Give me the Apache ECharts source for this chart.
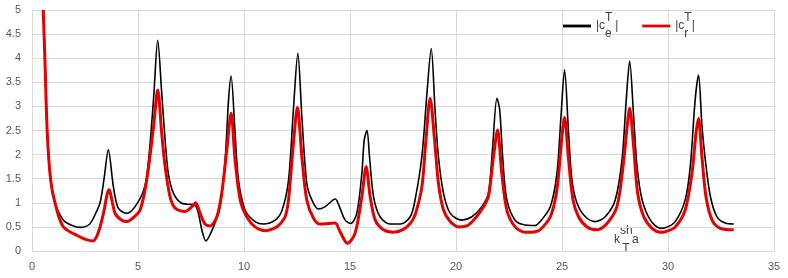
<!DOCTYPE html>
<html>
<head>
<meta charset="utf-8">
<script src="https://cdn.jsdelivr.net/npm/echarts@6/dist/echarts.min.js"></script>
<style>html,body{margin:0;padding:0;background:#fff}#c{width:788px;height:278px}</style>
</head>
<body>
<div id="c"></div>
<script>
const blackX = [0.53,0.61,0.72,0.88,1.09,1.48,1.9,2.27,2.7,2.97,3.21,3.4,3.6,3.84,4.07,4.47,5.1,5.41,5.73,5.93,6.12,6.28,6.43,6.67,7.06,7.69,7.85,8.01,8.2,8.56,8.87,9.11,9.27,9.39,9.58,9.74,10.05,10.52,10.92,11.47,11.8,12.1,12.33,12.54,12.73,12.96,13.2,13.51,13.83,14.3,14.53,14.77,15.04,15.32,15.56,15.67,15.8,15.92,16.11,16.42,16.89,17.37,17.84,18.07,18.39,18.63,18.83,19.02,19.17,19.41,19.73,20.28,20.75,21.22,21.53,21.72,21.93,22.06,22.21,22.4,22.79,23.27,23.74,23.97,24.45,24.76,24.95,25.12,25.31,25.47,25.71,26.1,26.57,27.04,27.51,27.83,28.03,28.19,28.38,28.54,28.78,29.17,29.64,29.87,30.34,30.81,31.05,31.28,31.44,31.6,31.76,32.0,32.31,32.7,33.1];
const blackY = [5.0,3.96,2.45,1.47,0.99,0.64,0.53,0.49,0.55,0.75,1.0,1.5,2.10,1.33,0.89,0.78,1.09,1.54,3.13,4.37,3.27,2.3,1.61,1.2,0.99,0.95,0.78,0.44,0.21,0.5,0.92,1.89,3.13,3.63,2.44,1.47,0.85,0.61,0.56,0.64,0.85,1.47,2.93,4.1,2.78,1.41,1.06,0.87,0.92,1.08,0.89,0.64,0.57,0.78,1.61,2.3,2.5,1.96,1.13,0.71,0.56,0.56,0.71,1.06,1.96,3.27,4.2,2.86,1.96,1.2,0.78,0.64,0.71,0.92,1.2,2.1,3.17,2.93,1.89,1.06,0.64,0.54,0.53,0.61,0.92,1.61,2.78,3.76,2.44,1.47,0.99,0.71,0.61,0.71,1.06,1.89,3.13,3.94,2.78,1.75,1.06,0.64,0.47,0.48,0.61,1.06,1.75,3.13,3.65,2.61,1.89,1.13,0.71,0.58,0.56];
const redX = [0.53,0.61,0.72,0.88,1.09,1.48,2.27,2.6,2.89,3.05,3.21,3.37,3.63,3.92,4.2,4.47,4.8,5.1,5.41,5.73,5.93,6.12,6.28,6.51,6.75,7.22,7.54,7.72,7.93,8.16,8.4,8.72,8.95,9.19,9.39,9.58,9.82,10.13,10.52,11.0,11.47,11.7,11.94,12.1,12.33,12.52,12.73,12.96,13.28,13.59,13.98,14.3,14.53,14.88,15.24,15.56,15.76,15.95,16.19,16.58,17.05,17.52,17.84,18.07,18.39,18.58,18.78,18.99,19.17,19.41,19.73,20.12,20.51,20.91,21.3,21.53,21.77,21.96,22.16,22.4,22.79,23.27,23.74,23.97,24.45,24.76,24.98,25.12,25.31,25.52,25.78,26.18,26.65,27.12,27.59,27.88,28.07,28.19,28.38,28.57,28.86,29.25,29.64,29.87,30.34,30.81,31.13,31.32,31.44,31.6,31.79,32.08,32.47,33.1];
const redY = [5.0,3.96,2.45,1.47,0.99,0.50,0.29,0.23,0.21,0.3,0.5,0.78,1.27,0.78,0.65,0.61,0.7,0.85,1.47,2.57,3.34,2.44,1.75,1.13,0.89,0.82,0.92,1.0,0.78,0.56,0.52,0.71,1.2,2.1,2.86,1.89,1.06,0.71,0.5,0.42,0.48,0.56,0.71,1.06,2.23,2.98,1.96,1.06,0.68,0.56,0.57,0.58,0.4,0.16,0.37,1.13,1.75,1.13,0.64,0.44,0.39,0.45,0.57,0.75,1.33,2.3,3.17,2.3,1.41,0.85,0.61,0.5,0.52,0.68,0.92,1.13,1.96,2.51,1.61,0.85,0.5,0.39,0.4,0.44,0.71,1.27,2.3,2.77,1.89,1.06,0.71,0.5,0.44,0.57,0.92,1.75,2.57,2.96,2.16,1.2,0.71,0.47,0.39,0.4,0.5,0.85,1.61,2.44,2.75,1.96,1.13,0.64,0.47,0.44];
const xTickLabels = ['0','5','10','15','20','25','30','35'];
const yTickLabels = ['0','0.5','1','1.5','2','2.5','3','3.5','4','4.5','5'];
const seriesNames = ['ce', 'cr'];
const seriesSubs = ['e', 'r'];

const chart = echarts.init(document.getElementById('c'), null, {renderer: 'canvas'});
const font = "'Liberation Sans Narrow','Liberation Sans',sans-serif";
const pairs = (xs, ys) => xs.map((x, i) => [x, ys[i]]);
const grid = '#d9d9d9';
const txt = '#404040';
const legendRich = {
  n: {fontSize: 12, lineHeight: 28, verticalAlign: 'middle', color: txt, fontFamily: font},
  sup: {fontSize: 12, lineHeight: 12, verticalAlign: 'top', color: txt, width: 0, fontFamily: font},
  sub: {fontSize: 12, lineHeight: 10, verticalAlign: 'bottom', color: txt, fontFamily: font}
};
chart.setOption({
  animation: false,
  grid: {left: 32, right: 14, top: 10, bottom: 27},
  xAxis: {
    type: 'value', min: 0, max: 35, interval: 5,
    axisLine: {show: true, lineStyle: {color: grid}},
    axisTick: {show: false},
    splitLine: {show: true, lineStyle: {color: grid, width: 1}},
    axisLabel: {color: '#595959', fontSize: 11, fontFamily: font, margin: 10,
      formatter: v => xTickLabels[Math.round(v / 5)]}
  },
  yAxis: {
    type: 'value', min: 0, max: 5, interval: 0.5,
    axisLine: {show: true, lineStyle: {color: grid}},
    axisTick: {show: false},
    splitLine: {show: true, lineStyle: {color: grid, width: 1}},
    axisLabel: {color: '#595959', fontSize: 11, fontFamily: font, margin: 11,
      formatter: v => yTickLabels[Math.round(v * 2)]}
  },
  legend: {
    left: 563, top: 12, itemWidth: 28, itemHeight: 14, itemGap: 24, padding: 0,
    data: seriesNames.map(n => ({name: n, icon: 'path://M0,0H10V1H0Z'})),
    formatter: name => '{n||c}{sup|T}{sub|' + seriesSubs[seriesNames.indexOf(name)] + '}{n| |}',
    textStyle: {rich: legendRich, padding: [0, 0, 0, 0]}
  },
  graphic: [{
    type: 'text', left: 614, top: 225, silent: true,
    style: {
      text: '{n|k}{sup|sh}{sub|T}{n|a}',
      rich: {
        n: {fontSize: 12, lineHeight: 30, verticalAlign: 'middle', fill: txt, fontFamily: font},
        sup: {fontSize: 12, lineHeight: 12, verticalAlign: 'top', fill: txt, width: 0, fontFamily: font},
        sub: {fontSize: 12, lineHeight: 12, verticalAlign: 'bottom', fill: txt, width: 12, align: 'center', fontFamily: font}
      }
    }
  }],
  series: [
    {name: seriesNames[0], type: 'line', data: pairs(blackX, blackY), showSymbol: false, symbol: 'none',
      smooth: 0.3, lineStyle: {color: '#000000', width: 1.6}, itemStyle: {color: '#000000'}},
    {name: seriesNames[1], type: 'line', data: pairs(redX, redY), showSymbol: false, symbol: 'none',
      smooth: 0.3, lineStyle: {color: '#e60000', width: 3}, itemStyle: {color: '#e60000'}}
  ]
});
</script>
</body>
</html>
